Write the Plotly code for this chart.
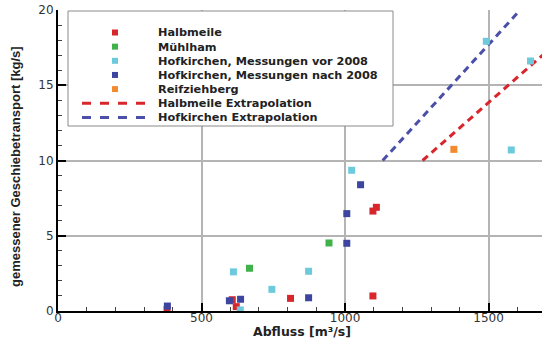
import plotly.graph_objects as go

# Measured bed-load transport vs. discharge
halbmeile_q = [380, 607, 621, 810, 1097, 1097, 1109]
halbmeile_g = [0.1, 0.75, 0.29, 0.84, 1.0, 6.64, 6.89]

muehlham_q = [667, 944]
muehlham_g = [2.84, 4.52]

hof_vor_q = [611, 635, 745, 873, 1023, 1492, 1579, 1646]
hof_vor_g = [2.6, 0.07, 1.44, 2.64, 9.35, 17.92, 10.70, 16.61]

hof_nach_q = [381, 597, 636, 873, 1006, 1006, 1054]
hof_nach_g = [0.33, 0.68, 0.78, 0.88, 4.5, 6.47, 8.39]

reif_q = [1379]
reif_g = [10.74]

# Extrapolation lines (start and end points)
halb_ext_q = [1270, 1700]
halb_ext_g = [10.0, 17.2]
hof_ext_q = [1131, 1610]
hof_ext_g = [10.0, 20.0]

x_ticks = [0, 500, 1000, 1500]
y_ticks = [0, 5, 10, 15, 20]

point_series = [
    ("Halbmeile", halbmeile_q, halbmeile_g, "#d7262c"),
    ("Mühlham", muehlham_q, muehlham_g, "#3fb24a"),
    ("Hofkirchen, Messungen vor 2008", hof_vor_q, hof_vor_g, "#6dcadc"),
    ("Hofkirchen, Messungen nach 2008", hof_nach_q, hof_nach_g, "#3c45a0"),
    ("Reifziehberg", reif_q, reif_g, "#f28a2e"),
]
line_series = [
    ("Halbmeile Extrapolation", halb_ext_q, halb_ext_g, "#d7262c"),
    ("Hofkirchen Extrapolation", hof_ext_q, hof_ext_g, "#4a4fa8"),
]

W, H = 542, 342
PL, PT, PW, PH = 58, 10, 484, 301


def px(x):
    return (x - PL) / PW


def py(y):
    return (PT + PH - y) / PH


fig = go.Figure()

for name, q, g, col in line_series:
    fig.add_trace(go.Scatter(x=q, y=g, mode="lines", name=name,
                             line=dict(color=col, width=3, dash="7px,5px"),
                             showlegend=False))

for name, q, g, col in point_series:
    fig.add_trace(go.Scatter(x=q, y=g, mode="markers", name=name,
                             marker=dict(symbol="square", size=7, color=col,
                                         line=dict(width=0)),
                             showlegend=False))

# Legend panel
shapes = [dict(type="rect", xref="paper", yref="paper",
               x0=px(68), x1=px(393), y0=py(126), y1=py(11),
               fillcolor="white", line=dict(color="#8a8a8a", width=1),
               layer="above")]
annotations = []
row0, row_gap = 32.5, 14.15
entries = [(n, c, "marker") for n, _, _, c in point_series] + \
          [(n, c, "line") for n, _, _, c in line_series]
for i, (name, col, kind) in enumerate(entries):
    yc = row0 + i * row_gap
    if kind == "marker":
        shapes.append(dict(type="rect", xref="paper", yref="paper",
                           x0=px(112), x1=px(118), y0=py(yc + 3), y1=py(yc - 3),
                           fillcolor=col, line=dict(width=0), layer="above"))
    else:
        shapes.append(dict(type="line", xref="paper", yref="paper",
                           x0=px(82), x1=px(147), y0=py(yc), y1=py(yc),
                           line=dict(color=col, width=3, dash="9px,9px"),
                           layer="above"))
    annotations.append(dict(text=name, xref="paper", yref="paper",
                            x=px(156), y=py(yc + 0.5), xanchor="left",
                            yanchor="middle", showarrow=False,
                            font=dict(family="DejaVu Sans", size=11.3,
                                      color="#222", weight="bold")))

# Axis titles
annotations.append(dict(text="Abfluss [m³/s]", xref="paper", yref="paper",
                        x=px(302), y=py(332), xanchor="center", yanchor="middle",
                        showarrow=False,
                        font=dict(family="DejaVu Sans", size=12.5, color="#222",
                                  weight="bold")))
annotations.append(dict(text="gemessener Geschiebetransport [kg/s]",
                        xref="paper", yref="paper", x=px(15), y=py(167),
                        xanchor="center", yanchor="middle", textangle=-90,
                        showarrow=False,
                        font=dict(family="Liberation Sans", size=13,
                                  color="#222", weight="bold")))

axis_common = dict(
    showline=True, linecolor="black", linewidth=2,
    ticks="inside", ticklen=8, tickwidth=2, tickcolor="black",
    showgrid=True, gridcolor="#b4b4b4", gridwidth=1.5,
    zeroline=False, automargin=False,
    tickfont=dict(family="DejaVu Sans", size=12, color="#333"),
)

fig.update_xaxes(range=[0, 1686], tickvals=x_ticks, ticklabelstandoff=-5,
                 minor=dict(dtick=100, ticks="inside", ticklen=4,
                            tickcolor="#444", tickwidth=1, showgrid=False),
                 **axis_common)
fig.update_yaxes(range=[0, 20], tickvals=y_ticks,
                 minor=dict(dtick=1, ticks="inside", ticklen=4,
                            tickcolor="#444", tickwidth=1, showgrid=False),
                 **axis_common)

fig.update_layout(
    width=W, height=H,
    margin=dict(l=PL, r=W - PL - PW, t=PT, b=H - PT - PH),
    paper_bgcolor="white", plot_bgcolor="white",
    showlegend=False,
    shapes=shapes, annotations=annotations,
)

fig.write_html("out.html")
